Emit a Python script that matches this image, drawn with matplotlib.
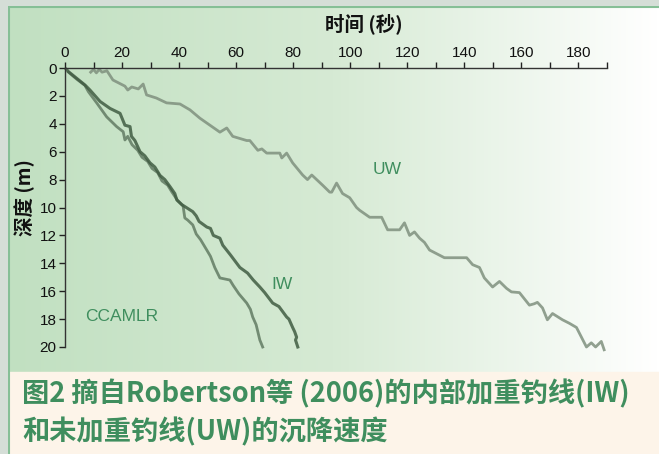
import numpy as np
import matplotlib
matplotlib.use("Agg")
import matplotlib.pyplot as plt
from matplotlib.colors import LinearSegmentedColormap

plt.rcParams['font.family'] = ['Liberation Sans', 'Noto Sans CJK SC', 'DejaVu Sans']

# ---- data (time in s, depth in m) ----
uw_t = [9, 10, 11, 12, 13, 14.7, 16.8, 21, 22, 23.4, 25.7, 27.4, 28.6, 32, 35.6, 40.3, 43.8,
        47.3, 50.8, 54.3, 56.7, 58.8, 63.7, 64.8, 67.6, 69, 70.7, 75.3, 76, 77.7, 79.8,
        83.3, 85, 86.5, 90.3, 92.8, 93.5, 95.2, 97.3, 99.8, 102.2, 103.3, 106.8, 111,
        113.1, 117.3, 119, 120.8, 122.5, 124.3, 126, 127.8, 133, 140.8, 142.9, 145.3,
        147, 149.9, 152.3, 154.8, 156.5, 159.3, 162.8, 164.5, 165.6, 167.4, 169.1, 170.9,
        174.4, 176.8, 179.3, 182.8, 184.5, 186, 188, 189]
uw_d = [0.3, 0.1, 0.35, 0.1, 0.3, 0.2, 0.86, 1.3, 1.58, 1.36, 1.5, 1.15, 1.93, 2.15, 2.5, 2.58, 3.0,
        3.6, 4.1, 4.6, 4.3, 4.9, 5.2, 5.2, 5.9, 5.8, 6.1, 6.1, 6.45, 6.1, 6.8,
        7.67, 8.0, 7.67, 8.4, 8.9, 8.9, 8.25, 9.0, 9.3, 10.0, 10.2, 10.7, 10.7,
        11.6, 11.6, 11.1, 12.0, 11.75, 12.2, 12.5, 13.05, 13.6, 13.6, 14.1, 14.3,
        15.05, 15.7, 15.3, 15.8, 16.05, 16.1, 17.0, 16.9, 16.8, 17.2, 18.05, 17.6,
        18.05, 18.3, 18.6, 20.0, 19.7, 20.0, 19.6, 20.2]

iw1_t = [0.5, 1.2, 4.1, 7, 8.75, 12.3, 15.8, 19.3, 21, 22.8, 23.3, 24.5, 26.3, 28, 29.8, 31.5,
         33.3, 35, 36.8, 38.5, 39.2, 41, 44.8, 46, 47, 49.7, 51, 52, 54.3, 55.3, 58, 61.3,
         64, 66, 68.3, 70, 72.8, 75, 77.7, 78.5, 79.8, 80.5, 81.2, 80.8, 81.6]
iw1_d = [0.1, 0.26, 0.74, 1.22, 1.58, 2.4, 2.9, 3.25, 4.1, 4.2, 4.9, 5.2, 6.0, 6.3, 6.8, 7.1,
         7.7, 8.0, 8.5, 9.0, 9.46, 9.8, 10.3, 10.6, 11.0, 11.4, 11.5, 12.0, 12.2, 12.7, 13.4, 14.3,
         14.7, 15.2, 15.7, 16.1, 16.85, 17.1, 17.85, 18.0, 18.6, 18.9, 19.3, 19.5, 20.0]

iw2_t = [1.2, 4.1, 7, 8.2, 11.1, 14.6, 18.1, 20.4, 21, 22, 23.5, 25.5, 27, 29, 30.5, 32.5, 34,
         36, 37.5, 39.5, 41.4, 42, 43, 44.8, 46, 47.5, 49.7, 51, 52.5, 54.3, 57.8, 59, 61,
         63.7, 65, 65.8, 67, 68.3, 69.3]
iw2_d = [0.3, 0.8, 1.25, 1.7, 2.5, 3.5, 4.2, 4.57, 5.16, 4.9, 5.5, 5.9, 6.4, 6.7, 7.2, 7.5, 8.1,
         8.4, 8.9, 9.5, 9.9, 10.75, 10.9, 11.25, 11.9, 12.3, 13.05, 13.5, 14.3, 15.05, 15.2, 15.6, 16.2,
         16.85, 17.3, 17.85, 18.4, 19.5, 20.0]

x_ticks = list(range(0, 181, 20))
y_ticks = list(range(0, 21, 2))

W, H = 659, 454
fig = plt.figure(figsize=(W / 100, H / 100), dpi=100)
fig.patch.set_facecolor('#d5ded7')

# background panel with gradient
bg = fig.add_axes([8 / W, 0, 1 - 8 / W, 1 - 6 / H])
bg.set_zorder(-10)
cmap = LinearSegmentedColormap.from_list('g', ['#c1e0c1', '#d6ead4', '#ffffff'])
grad = np.linspace(0, 1, 512).reshape(1, -1)
bg.imshow(grad, aspect='auto', cmap=cmap, extent=[0, 1, 0, 1])
bg.set_xlim(0, 1)
bg.set_ylim(0, 1)
cap_h = (H - 372) / (H - 6)
bg.add_patch(plt.Rectangle((0, 0), 1, cap_h, color='#fdf4e9', zorder=2))
bg.axhline(1 - 1 / (H - 6), color='#86bf96', lw=1.5, zorder=3)
bg.axvline(0.001, color='#86bf96', lw=1.5, zorder=3)
bg.axis('off')

# main axes: x 0..190 maps to px 65..607, y 0..20 maps to px 68..347
x0_px, x190_px = 65, 607
y0_px, y20_px = 68, 347
ax = fig.add_axes([x0_px / W, 1 - y20_px / H, (x190_px - x0_px) / W, (y20_px - y0_px) / H])
ax.patch.set_alpha(0)
ax.set_xlim(0, 190)
ax.set_ylim(20, 0)

ax.plot(uw_t, uw_d, color='#7f907e', lw=2.0, alpha=0.85, solid_joinstyle='round', clip_on=False)
ax.plot(iw2_t, iw2_d, color='#627b63', lw=2.0, alpha=0.85, solid_joinstyle='round', clip_on=False)
ax.plot(iw1_t, iw1_d, color='#405c42', lw=2.2, alpha=0.85, solid_joinstyle='round', clip_on=False)

ax.xaxis.set_ticks_position('top')
ax.set_xticks(x_ticks)
ax.set_xticks(range(10, 191, 10), minor=True)
ax.set_yticks(y_ticks)
ax.tick_params(axis='both', which='major', labelsize=11, length=4, width=1, color='#222222',
               labelcolor='#111111', pad=2)
ax.tick_params(axis='x', which='minor', length=4, width=1, color='#222222')
for s in ['right', 'bottom']:
    ax.spines[s].set_visible(False)
for s in ['left', 'top']:
    ax.spines[s].set_color('#333333')
    ax.spines[s].set_linewidth(1)
ax.spines['left'].set_bounds(0, 20)
ax.spines['top'].set_bounds(0, 190)

cjk = ['Noto Sans CJK SC', 'DejaVu Sans']
fig.text(364 / W, 1 - 24 / H, '时间 (秒)', fontsize=14, fontweight='bold', family=cjk,
         ha='center', va='center', color='#111111')
fig.text(25 / W, 1 - 198 / H, '深度 (m)', fontsize=14, fontweight='bold', family=cjk,
         ha='center', va='center', rotation=90, color='#111111')

green = '#3f8e5e'
ax.text(107.8, 7.3, 'UW', color=green, fontsize=12.5, va='center')
ax.text(72.5, 15.55, 'IW', color=green, fontsize=12.5, va='center')
ax.text(7, 17.8, 'CCAMLR', color=green, fontsize=12.5, va='center')

# caption
fig.text(22 / W, 1 - 394 / H, '图2 摘自Robertson等 (2006)的内部加重钓线(IW)', color=green,
         fontsize=19.6, fontweight='bold', family=cjk, va='center')
fig.text(22 / W, 1 - 432 / H, '和未加重钓线(UW)的沉降速度', color=green,
         fontsize=19.6, fontweight='bold', family=cjk, va='center')

fig.savefig('out.png', dpi=100, facecolor=fig.get_facecolor())
